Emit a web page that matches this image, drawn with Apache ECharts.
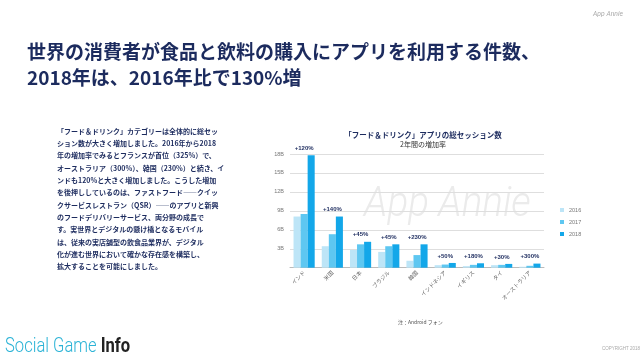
<!DOCTYPE html>
<html><head><meta charset="utf-8">
<script src="https://cdn.jsdelivr.net/npm/echarts@6/dist/echarts.min.js"></script>
<style>html,body{margin:0;padding:0;background:#fff}#c{width:640px;height:360px}</style>
</head><body><div id="c"></div>
<script>
const categories = ['インド','米国','日本','ブラジル','韓国','インドネシア','イギリス','タイ','オーストラリア'];
const v2016 = [8.1, 3.4, 2.8, 2.5, 1.1, 0.4, 0.25, 0.4, 0.15];
const v2017 = [8.5, 5.3, 3.7, 3.4, 2.0, 0.5, 0.45, 0.45, 0.3];
const v2018 = [17.8, 8.1, 4.1, 3.7, 3.7, 0.75, 0.7, 0.6, 0.65];
const growth = ['+120%','+140%','+45%','+45%','+230%','+50%','+180%','+30%','+300%'];
const yTicks = ['', '3B', '6B', '9B', '12B', '15B', '18B'];
const seriesNames = ['2016','2017','2018'];
const pageTitle = ['世界の消費者が食品と飲料の購入にアプリを利用する件数、', '2018年は、2016年比で130%増'];
const bodyLines = [
 '「フード＆ドリンク」カテゴリーは全体的に総セッ',
 'ション数が大きく増加しました。2016年から2018',
 '年の増加率でみるとフランスが首位（325%）で、',
 'オーストラリア（300%）、韓国（230%）と続き、イ',
 'ンドも120%と大きく増加しました。こうした増加',
 'を後押ししているのは、ファストフード――クイッ',
 'クサービスレストラン（QSR）――のアプリと新興',
 'のフードデリバリーサービス、両分野の成長で',
 'す。実世界とデジタルの懸け橋となるモバイル',
 'は、従来の実店舗型の飲食品業界が、デジタル',
 '化が進む世界において確かな存在感を構築し、',
 '拡大することを可能にしました。'
];
const chartTitle = '「フード＆ドリンク」アプリの総セッション数';
const chartSub = '2年間の増加率';
const note = '注：Android フォン';

const navy = '#1c2b5e';
const jp = '"Noto Sans CJK JP", sans-serif';
const colors = ['#bde5f7', '#5ec7f1', '#13a7e9'];

const chart = echarts.init(document.getElementById('c'));
chart.setOption({
  backgroundColor: '#fff',
  animation: false,
  color: colors,
  title: {
    text: chartTitle, subtext: chartSub, left: 418, top: 126, textAlign: 'center', itemGap: 2,
    textStyle: {fontFamily: jp, fontSize: 7.5, fontWeight: 'bold', color: navy},
    subtextStyle: {fontFamily: jp, fontSize: 7, color: '#333'}
  },
  legend: {
    orient: 'vertical', left: 555, top: 202, itemWidth: 4, itemHeight: 4, itemGap: 6,
    icon: 'rect', textStyle: {fontSize: 5.5, color: '#777', fontFamily: 'Liberation Sans'},
    data: seriesNames
  },
  grid: {left: 290, right: 96, top: 154, bottom: 92.3, containLabel: false},
  xAxis: {
    type: 'category', data: categories,
    axisLine: {lineStyle: {color: '#bbb', width: 1}},
    axisTick: {show: false},
    axisLabel: {rotate: 45, fontSize: 5.5, color: '#666', fontFamily: jp, margin: 4, interval: 0}
  },
  yAxis: {
    type: 'value', min: 0, max: 18, interval: 3,
    axisLine: {show: false}, axisTick: {show: false},
    splitLine: {lineStyle: {color: '#dedede', width: 1}},
    axisLabel: {fontSize: 5.5, color: '#777', margin: 6, fontFamily: 'Liberation Sans',
      formatter: (v) => yTicks[Math.round(v / 3)] || ''}
  },
  series: [
    {name: seriesNames[0], type: 'bar', data: v2016, barGap: '0%', barCategoryGap: '25%'},
    {name: seriesNames[1], type: 'bar', data: v2017, barGap: '0%', barCategoryGap: '25%'},
    {name: seriesNames[2], type: 'bar', data: v2018, barGap: '0%', barCategoryGap: '25%',
      label: {show: true, position: 'top', distance: 4, offset: [-7, 0],
        formatter: (p) => growth[p.dataIndex],
        fontSize: 6, fontWeight: 'bold', color: navy, fontFamily: 'Liberation Sans'}}
  ],
  graphic: [
    {type: 'text', left: 364, top: 184, z: -1, silent: true, scaleX: 0.92,
      style: {text: 'App Annie', fontSize: 42, fontStyle: 'italic', fontFamily: 'Roboto', fontWeight: 300, fill: '#ebebeb'}},
    {type: 'text', left: 593, top: 10, scaleX: 0.85,
      style: {text: 'App Annie', fontSize: 8, fontStyle: 'italic', fontFamily: 'Roboto', fill: '#aaa'}},
    {type: 'text', left: 27, top: 42,
      style: {text: pageTitle[0], fontSize: 19, fontWeight: 'bold', fontFamily: jp, fill: navy}},
    {type: 'text', left: 27, top: 68,
      style: {text: pageTitle[1], fontSize: 19, fontWeight: 'bold', fontFamily: jp, fill: navy}},
    {type: 'text', left: 57, top: 125,
      style: {text: bodyLines.join('\n'), fontSize: 7, lineHeight: 12.3, fontWeight: 'bold', fontFamily: jp, fill: navy}},
    {type: 'text', left: 398, top: 320,
      style: {text: note, fontSize: 5, fontFamily: jp, fill: '#555'}},
    {type: 'text', x: 5, y: 337, scaleX: 0.83,
      style: {rich: {
        a: {fontSize: 20, fontFamily: 'Roboto', fontWeight: 300, fill: '#2bb3d6'},
        b: {fontSize: 20, fontFamily: 'Roboto', fontWeight: 'bold', fill: '#222'}
      }, text: '{a|Social Game }{b|Info}'}},
    {type: 'text', left: 602, top: 346,
      style: {text: 'COPYRIGHT 2018', fontSize: 4.5, fontFamily: 'Liberation Sans', fill: '#aaa'}}
  ]
});
</script>
</body></html>
